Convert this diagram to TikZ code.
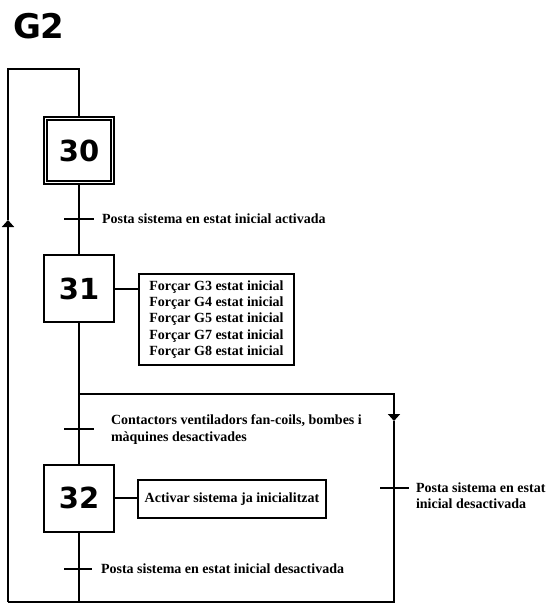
\documentclass[tikz,border=0pt]{standalone}
\usepackage{fontspec}
\setmainfont{Liberation Serif}
\newfontfamily\numfont{DejaVu Sans}
\usetikzlibrary{arrows.meta}
\tikzset{
  etapa/.style={draw,line width=2pt,minimum width=70pt,minimum height=67pt,inner sep=0pt,font=\numfont\bfseries\fontsize{29}{29}\selectfont},
  accio/.style={draw,line width=2pt,inner sep=0pt,align=left,font=\bfseries\fontsize{14}{16.4}\selectfont},
  recept/.style={anchor=west,inner sep=0pt,align=left,font=\bfseries\fontsize{14}{16.4}\selectfont},
  fletxa/.style={-{Triangle[width=12pt,length=7pt]}}
}
\begin{document}
\begin{tikzpicture}[x=1pt,y=-1pt,line width=2pt]
\useasboundingbox (0,0) rectangle (548,604);
\node[anchor=base west,inner sep=0pt,font=\numfont\bfseries\fontsize{34}{34}\selectfont] (titol) at (12,39) {G2};
\node[etapa,double,double distance=1.2pt,minimum width=67pt,minimum height=64pt] (e30) at (79,150.5) {30};
\node[etapa] (e31) at (79,288.5) {31};
\node[etapa] (e32) at (79,498) {32};
\node[accio,anchor=west,minimum width=155pt,minimum height=91pt] (a31) at (138,319.5) {Forçar G3 estat inicial\\Forçar G4 estat inicial\\Forçar G5 estat inicial\\Forçar G7 estat inicial\\Forçar G8 estat inicial};
\node[accio,anchor=west,minimum width=188pt,minimum height=38pt] (a32) at (137,499) {Activar sistema ja inicialitzat};
\coordinate (t1) at (79,219);
\coordinate (t2) at (79,429);
\coordinate (t3) at (394,488);
\coordinate (t4) at (79,569);
\coordinate (dalt) at (79,69);
\coordinate (daltE) at (8,69);
\coordinate (baixE) at (8,602);
\coordinate (baix) at (79,602);
\coordinate (baixD) at (394,602);
\coordinate (bif) at (79,394);
\coordinate (bifD) at (394,394);
\coordinate (fE) at (8,220);
\coordinate (fD) at (394,421);
\draw (e30) -- (e31);
\draw (e31) -- (e32);
\draw (e32) -- (baix);
\draw (e31.east) -- (e31.east -| a31.west);
\draw (e32.east) -- (e32.east -| a32.west);
\draw (baix) -- (baixE);
\draw[fletxa] (baixE) -- (fE);
\draw (fE) -- (daltE) -- (dalt) -- (e30);
\draw[fletxa] (bif) -- (bifD) -- (fD);
\draw (fD) -- (baixD) -- (baix);
\draw ([xshift=-15pt]t1) -- ([xshift=15pt]t1);
\draw ([xshift=-15pt]t2) -- ([xshift=15pt]t2);
\draw ([xshift=-14pt]t3) -- ([xshift=15pt]t3);
\draw ([xshift=-15pt]t4) -- ([xshift=13pt]t4);
\node[recept] (r1) at (101,219) {Posta sistema en estat inicial activada};
\node[recept] (r2) at (110,429.5) {Contactors ventiladors fan-coils, bombes i\\màquines desactivades};
\node[recept] (r3) at (415,496) {Posta sistema en estat\\inicial desactivada};
\node[recept] (r4) at (100,569) {Posta sistema en estat inicial desactivada};
\end{tikzpicture}
\end{document}
